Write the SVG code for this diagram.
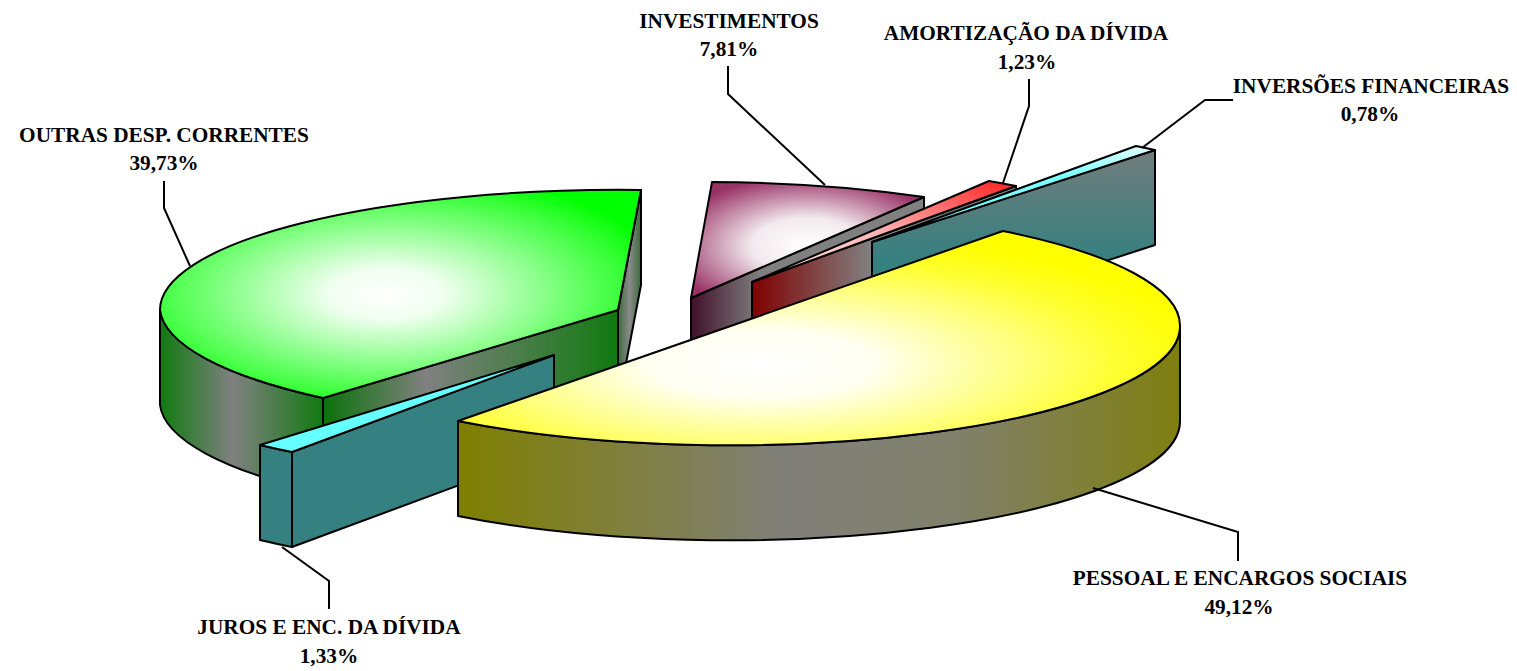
<svg xmlns="http://www.w3.org/2000/svg" width="1517" height="671" viewBox="0 0 1517 671">
<defs>
<radialGradient id="gYellowTop" cx="0.42" cy="0.62" r="0.62">
<stop offset="0" stop-color="#ffffff"/><stop offset="0.25" stop-color="#fffff2"/><stop offset="0.8" stop-color="#ffff30"/><stop offset="1" stop-color="#ffff00"/>
</radialGradient>
<linearGradient id="gYellowSide" x1="0" y1="0" x2="1" y2="0">
<stop offset="0" stop-color="#7f7f00"/><stop offset="0.45" stop-color="#80807a"/><stop offset="0.7" stop-color="#80806a"/><stop offset="1" stop-color="#7f7f10"/>
</linearGradient>
<radialGradient id="gGreenTop" cx="0.47" cy="0.5" r="0.6">
<stop offset="0" stop-color="#ffffff"/><stop offset="0.2" stop-color="#f0fff0"/><stop offset="0.85" stop-color="#30ff30"/><stop offset="1" stop-color="#00ff00"/>
</radialGradient>
<linearGradient id="gGreenSide" x1="0" y1="0" x2="1" y2="0">
<stop offset="0" stop-color="#107a10"/><stop offset="0.45" stop-color="#808080"/><stop offset="1" stop-color="#107a10"/>
</linearGradient>
<linearGradient id="gGreenFace" x1="0" y1="0" x2="1" y2="0">
<stop offset="0" stop-color="#0a720a"/><stop offset="0.35" stop-color="#808080"/><stop offset="1" stop-color="#107a10"/>
</linearGradient>
<linearGradient id="gGreenFace2" x1="0" y1="0" x2="1" y2="0">
<stop offset="0" stop-color="#3a6a3a"/><stop offset="0.5" stop-color="#8a8a8a"/><stop offset="1" stop-color="#3a6a3a"/>
</linearGradient>
<radialGradient id="gPurpleTop" cx="0.5" cy="0.55" r="0.6">
<stop offset="0" stop-color="#ffffff"/><stop offset="0.4" stop-color="#f2eaee"/><stop offset="1" stop-color="#993366"/>
</radialGradient>
<linearGradient id="gPurpleSide" x1="0" y1="0" x2="1" y2="0">
<stop offset="0" stop-color="#40102a"/><stop offset="0.3" stop-color="#808080"/><stop offset="1" stop-color="#808080"/>
</linearGradient>
<linearGradient id="gRedTop" x1="0" y1="1" x2="1" y2="0">
<stop offset="0" stop-color="#fff4f4"/><stop offset="0.5" stop-color="#ffb0b0"/><stop offset="1" stop-color="#ff2020"/>
</linearGradient>
<linearGradient id="gRedSide" x1="0" y1="0" x2="1" y2="0">
<stop offset="0" stop-color="#800000"/><stop offset="0.45" stop-color="#808080"/><stop offset="1" stop-color="#808080"/>
</linearGradient>
<linearGradient id="gTealSide" x1="0" y1="0" x2="0" y2="1">
<stop offset="0" stop-color="#727c7c"/><stop offset="0.6" stop-color="#358080"/><stop offset="1" stop-color="#338080"/>
</linearGradient>
<linearGradient id="gCyanTop" x1="0" y1="1" x2="1" y2="0">
<stop offset="0" stop-color="#66ffff"/><stop offset="0.7" stop-color="#80ffff"/><stop offset="1" stop-color="#e6ffff"/>
</linearGradient>
</defs>
<style>
.o{stroke:#000;stroke-width:2;stroke-linejoin:round}
.teal{fill:#358080}
.cyan{fill:#66ffff}
.lbl{font-family:"Liberation Serif","Times New Roman",serif;font-weight:bold;font-size:21.3px;text-anchor:middle;fill:#000}
.ld{fill:none;stroke:#000;stroke-width:2}
</style>
<rect width="1517" height="671" fill="#ffffff"/>

<g id="slice-investimentos">
<polygon class="o" fill="url(#gPurpleSide)" points="691,298 924,197 924,292 691,393"/>
<path class="o" fill="url(#gPurpleTop)" d="M691,298 L712,182 A455 120 0 0 1 924,197 Z"/>
</g>

<g id="slice-amortizacao">
<polygon class="o" fill="url(#gRedSide)" points="752,282 1016,186 1016,281 752,377"/>
<path class="o" fill="url(#gRedTop)" d="M752,282 L989,181 A455 120 0 0 1 1016,186 Z"/>
</g>

<g id="slice-inversoes">
<polygon class="o" fill="url(#gTealSide)" points="872,242 1155,150 1155,245 872,337"/>
<path class="o" fill="url(#gCyanTop)" d="M872,242 L1136,146 A455 120 0 0 1 1155,150 Z"/>
</g>

<g id="slice-outras">
<path class="o" fill="url(#gGreenSide)" d="M323,398 A458 120 0 0 1 160,310 L160,405 A458 120 0 0 0 323,493 Z"/>
<polygon class="o" fill="url(#gGreenFace2)" points="618,310 641,190 641,285 618,405"/>
<polygon class="o" fill="url(#gGreenFace)" points="323,398 618,310 618,405 323,493"/>
<path class="o" fill="url(#gGreenTop)" d="M618,310 L641,190 A458 120 0 0 0 160,310 A458 120 0 0 0 323,398 Z"/>
</g>

<g id="slice-juros">
<polygon class="o teal" points="554,355 292,452 292,547 554,450"/>
<path class="o teal" d="M292,452 A455 120 0 0 1 260,445 L260,540 A455 120 0 0 0 292,547 Z"/>
<path class="o cyan" d="M554,355 L292,452 A455 120 0 0 1 260,445 Z"/>
</g>

<g id="slice-pessoal">
<path class="o" fill="url(#gYellowSide)" d="M1180,326 A450 119 0 0 1 458,421 L458,516 A450 119 0 0 0 1180,421 Z"/>
<path class="o" fill="url(#gYellowTop)" d="M458,421 L1003,231 A450 119 0 0 1 1180,326 A450 119 0 0 1 458,421 Z"/>
</g>

<g id="connectors">
<polyline class="ld" points="164,181 164,208 190,266"/>
<polyline class="ld" points="728,66 728,94 825,185"/>
<polyline class="ld" points="1029,79 1029,106 1003,183"/>
<polyline class="ld" points="1233,100 1205,100 1142,148"/>
<polyline class="ld" points="1093,488 1238,532 1238,561"/>
<polyline class="ld" points="282,547 329,581 329,609"/>
</g>

<g id="labels">
<text class="lbl" x="729" y="28">INVESTIMENTOS</text>
<text class="lbl" x="729" y="56">7,81%</text>
<text class="lbl" x="1026" y="40">AMORTIZAÇÃO DA DÍVIDA</text>
<text class="lbl" x="1027" y="69">1,23%</text>
<text class="lbl" x="1371" y="93">INVERSÕES FINANCEIRAS</text>
<text class="lbl" x="1370" y="121">0,78%</text>
<text class="lbl" x="164" y="142">OUTRAS DESP. CORRENTES</text>
<text class="lbl" x="164" y="170">39,73%</text>
<text class="lbl" x="1240" y="585">PESSOAL E ENCARGOS SOCIAIS</text>
<text class="lbl" x="1239" y="614">49,12%</text>
<text class="lbl" x="329" y="634">JUROS E ENC. DA DÍVIDA</text>
<text class="lbl" x="329" y="663">1,33%</text>
</g>
</svg>
